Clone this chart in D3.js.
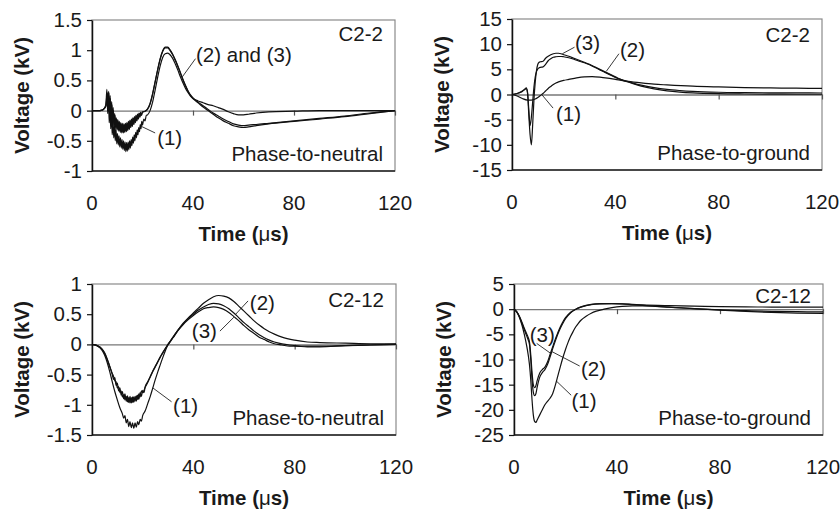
<!DOCTYPE html>
<html>
<head>
<meta charset="utf-8">
<script src="https://cdn.jsdelivr.net/npm/d3@7"></script>
<style>
  body { margin: 0; background: #fff; }
  svg text { font-family: 'Liberation Sans', Arial, Helvetica, sans-serif; fill: #1a1a1a; }
</style>
</head>
<body>
<svg id="chart" width="840" height="510"></svg>
<script>
// ---- data ----
const timeTicks = [0, 40, 80, 120]
const ticksPn22 = [-1, -0.5, 0, 0.5, 1, 1.5]
const ticksPg22 = [-15, -10, -5, 0, 5, 10, 15]
const ticksPn212 = [-1.5, -1, -0.5, 0, 0.5, 1]
const ticksPg212 = [-25, -20, -15, -10, -5, 0, 5]

// C2-2, phase-to-neutral
const pn22_1 = [[0,0],[3,0],[4.5,0.02],[5.5,0.1],[5.9,0.35],[6.2,-0.05],[6.5,0.3],[6.8,-0.2],[7.1,0.1],[7.4,-0.3],[7.7,-0.05],[8,-0.4],[8.3,-0.15],[8.6,-0.45],[8.9,-0.25],[9.2,-0.5],[9.5,-0.3],[9.8,-0.55],[10.1,-0.38],[10.4,-0.57],[10.7,-0.42],[11,-0.6],[11.3,-0.45],[11.6,-0.62],[11.9,-0.48],[12.2,-0.64],[12.5,-0.5],[12.8,-0.66],[13.1,-0.52],[13.4,-0.68],[13.7,-0.53],[14,-0.67],[14.3,-0.52],[14.6,-0.65],[14.9,-0.5],[15.2,-0.62],[15.5,-0.48],[15.8,-0.58],[16.1,-0.44],[16.4,-0.54],[16.7,-0.4],[17,-0.5],[17.3,-0.36],[17.6,-0.45],[17.9,-0.32],[18.2,-0.4],[18.5,-0.28],[18.8,-0.35],[19.1,-0.23],[19.4,-0.3],[19.7,-0.18],[20,-0.24],[20.5,-0.14],[21,-0.17],[21.5,-0.08],[22,-0.07],[23,0],[24,0.14],[25,0.34],[26,0.55],[27,0.74],[28,0.88],[29,0.94],[30,0.95],[31,0.92],[32,0.86],[33,0.77],[34,0.67],[35,0.56],[36,0.46],[37,0.37],[38,0.3],[39,0.24],[40,0.2],[42,0.16],[44,0.13],[46,0.1],[48,0.08],[50,0.05],[52,0.02],[54,-0.02],[56,-0.05],[58,-0.07],[60,-0.07],[62,-0.06],[65,-0.04],[70,-0.02],[80,-0.01],[90,0],[120,0]]
const pn22_2 = [[0,0],[3,0],[4.5,0.02],[5.5,0.08],[6,0.3],[6.3,0.05],[6.6,0.32],[6.9,-0.05],[7.2,0.25],[7.5,-0.12],[7.8,0.15],[8.1,-0.2],[8.4,0.05],[8.7,-0.25],[9,-0.05],[9.3,-0.28],[9.6,-0.12],[9.9,-0.3],[10.2,-0.15],[10.5,-0.32],[10.8,-0.18],[11.1,-0.34],[11.4,-0.2],[11.7,-0.35],[12,-0.21],[12.3,-0.36],[12.6,-0.22],[12.9,-0.35],[13.2,-0.21],[13.5,-0.34],[13.8,-0.2],[14.1,-0.32],[14.4,-0.18],[14.7,-0.3],[15,-0.16],[15.3,-0.27],[15.6,-0.14],[15.9,-0.25],[16.2,-0.12],[16.5,-0.22],[16.8,-0.1],[17.1,-0.19],[17.4,-0.08],[17.7,-0.16],[18,-0.06],[18.3,-0.13],[18.6,-0.04],[18.9,-0.1],[19.2,-0.03],[19.5,-0.07],[20,-0.02],[21,-0.01],[22,0.03],[23,0.12],[24,0.28],[25,0.48],[26,0.68],[27,0.86],[28,0.99],[29,1.05],[30,1.05],[31,1.0],[32,0.93],[33,0.84],[34,0.74],[35,0.63],[36,0.52],[37,0.42],[38,0.33],[39,0.26],[40,0.21],[42,0.14],[44,0.08],[46,0.02],[48,-0.04],[50,-0.09],[52,-0.14],[54,-0.18],[56,-0.22],[58,-0.24],[60,-0.25],[62,-0.24],[65,-0.23],[70,-0.21],[80,-0.17],[90,-0.13],[100,-0.09],[110,-0.04],[120,0]]
const pn22_3 = [[0,0],[3,0],[4.5,0.02],[5.5,0.07],[6.1,0.28],[6.4,0.02],[6.7,0.3],[7,-0.08],[7.3,0.2],[7.6,-0.15],[7.9,0.1],[8.2,-0.22],[8.5,0.0],[8.8,-0.27],[9.1,-0.08],[9.4,-0.3],[9.7,-0.14],[10,-0.32],[10.3,-0.17],[10.6,-0.34],[10.9,-0.2],[11.2,-0.36],[11.5,-0.22],[11.8,-0.37],[12.1,-0.23],[12.4,-0.37],[12.7,-0.23],[13,-0.36],[13.3,-0.22],[13.6,-0.35],[13.9,-0.21],[14.2,-0.33],[14.5,-0.19],[14.8,-0.31],[15.1,-0.17],[15.4,-0.28],[15.7,-0.15],[16,-0.26],[16.3,-0.13],[16.6,-0.23],[16.9,-0.11],[17.2,-0.2],[17.5,-0.09],[17.8,-0.17],[18.1,-0.07],[18.4,-0.14],[18.7,-0.05],[19,-0.11],[19.3,-0.04],[19.6,-0.08],[20,-0.03],[21,-0.01],[22,0.02],[23,0.11],[24,0.27],[25,0.47],[26,0.67],[27,0.85],[28,0.98],[29,1.04],[30,1.04],[31,0.99],[32,0.92],[33,0.83],[34,0.73],[35,0.62],[36,0.51],[37,0.41],[38,0.32],[39,0.25],[40,0.2],[42,0.13],[44,0.06],[46,0],[48,-0.06],[50,-0.12],[52,-0.17],[54,-0.21],[56,-0.25],[58,-0.27],[60,-0.28],[62,-0.27],[65,-0.25],[70,-0.22],[80,-0.18],[90,-0.14],[100,-0.1],[110,-0.05],[120,0]]

// C2-2, phase-to-ground
const pg22_1 = [[0,0],[2,-0.3],[4,-0.8],[6,-1.1],[7.5,-1.1],[9,-0.9],[10,-0.6],[11,-0.2],[12,0.2],[13,0.7],[14,1.2],[15,1.6],[16,2.0],[17,2.3],[18,2.5],[20,2.8],[22,3.0],[25,3.3],[28,3.5],[31,3.55],[34,3.45],[37,3.25],[40,3.0],[45,2.6],[50,2.3],[55,2.05],[60,1.9],[70,1.65],[80,1.5],[90,1.38],[100,1.3],[110,1.25],[120,1.2]]
const pg22_2 = [[0,0],[2,0.2],[4,0.6],[5,1.0],[5.5,1.2],[6,0.5],[6.5,-3],[7,-6.2],[7.5,-4.5],[8,-1.5],[8.5,1.5],[9,3.5],[9.5,4.6],[10,5.1],[10.5,5.3],[11,5.4],[12,5.5],[13,6.0],[14,6.7],[15,7.1],[16,7.4],[17,7.5],[18,7.55],[19,7.55],[20,7.5],[22,7.3],[24,7.0],[26,6.6],[28,6.3],[30,5.9],[32,5.4],[34,4.9],[36,4.4],[38,3.9],[40,3.4],[42,3.0],[46,2.4],[50,1.85],[55,1.35],[60,1.0],[65,0.78],[70,0.62],[80,0.45],[90,0.38],[100,0.34],[110,0.32],[120,0.3]]
const pg22_3 = [[0,0],[2,0.2],[4,0.7],[5,1.1],[5.5,1.3],[6,0.3],[6.5,-4],[7,-8],[7.5,-10],[8,-6],[8.5,-1],[9,2.5],[9.5,4.8],[10,6.0],[10.5,6.4],[11,6.5],[12,6.6],[13,7.2],[14,7.6],[15,7.9],[16,8.1],[17,8.2],[18,8.2],[19,8.1],[20,7.9],[22,7.6],[24,7.2],[26,6.8],[28,6.4],[30,6.0],[32,5.5],[34,5.0],[36,4.5],[38,4.0],[40,3.5],[42,3.0],[46,2.3],[50,1.65],[55,1.1],[60,0.72],[65,0.48],[70,0.32],[80,0.16],[90,0.1],[100,0.07],[110,0.05],[120,0.05]]

// C2-12, phase-to-neutral
const pn212_1 = [[0,0],[2,-0.02],[4,-0.1],[5,-0.18],[6,-0.3],[7,-0.45],[8,-0.62],[9,-0.78],[10,-0.92],[11,-1.05],[12,-1.15],[12.5,-1.22],[13,-1.18],[13.5,-1.3],[14,-1.24],[14.5,-1.36],[15,-1.28],[15.5,-1.38],[16,-1.3],[16.5,-1.39],[17,-1.3],[17.5,-1.37],[18,-1.28],[18.5,-1.33],[19,-1.24],[19.5,-1.27],[20,-1.18],[21,-1.1],[22,-0.98],[23,-0.86],[24,-0.72],[25,-0.58],[26,-0.45],[27,-0.33],[28,-0.21],[29,-0.1],[30,0],[31,0.06],[32,0.12],[34,0.24],[36,0.35],[38,0.44],[40,0.52],[42,0.6],[44,0.68],[46,0.74],[48,0.79],[50,0.81],[52,0.8],[54,0.77],[56,0.71],[58,0.63],[60,0.55],[62,0.47],[64,0.39],[66,0.32],[68,0.26],[70,0.21],[72,0.17],[75,0.12],[80,0.07],[85,0.04],[90,0.03],[100,0.02],[110,0.01],[120,0.01]]
const pn212_2 = [[0,0],[2,-0.02],[4,-0.08],[5,-0.15],[6,-0.25],[7,-0.37],[8,-0.5],[8.5,-0.58],[9,-0.55],[9.5,-0.68],[10,-0.64],[10.5,-0.77],[11,-0.72],[11.5,-0.84],[12,-0.78],[12.5,-0.9],[13,-0.82],[13.5,-0.94],[14,-0.85],[14.5,-0.96],[15,-0.86],[15.5,-0.97],[16,-0.87],[16.5,-0.96],[17,-0.86],[17.5,-0.94],[18,-0.84],[18.5,-0.91],[19,-0.8],[19.5,-0.86],[20,-0.76],[20.5,-0.8],[21,-0.7],[22,-0.62],[23,-0.53],[24,-0.44],[25,-0.36],[26,-0.28],[27,-0.2],[28,-0.13],[29,-0.06],[30,0],[31,0.06],[32,0.12],[34,0.24],[36,0.34],[38,0.43],[40,0.5],[42,0.57],[44,0.62],[46,0.66],[48,0.68],[50,0.67],[52,0.64],[54,0.59],[56,0.52],[58,0.44],[60,0.36],[62,0.29],[64,0.22],[66,0.16],[68,0.11],[70,0.07],[72,0.04],[75,0.01],[78,-0.01],[80,-0.02],[85,-0.03],[90,-0.03],[100,-0.02],[110,-0.01],[120,0]]
const pn212_3 = [[0,0],[2,-0.02],[4,-0.08],[5,-0.14],[6,-0.24],[7,-0.36],[8,-0.48],[8.5,-0.53],[9,-0.6],[9.5,-0.62],[10,-0.72],[10.5,-0.7],[11,-0.8],[11.5,-0.77],[12,-0.87],[12.5,-0.83],[13,-0.92],[13.5,-0.86],[14,-0.95],[14.5,-0.88],[15,-0.97],[15.5,-0.88],[16,-0.96],[16.5,-0.87],[17,-0.94],[17.5,-0.85],[18,-0.91],[18.5,-0.82],[19,-0.87],[19.5,-0.77],[20,-0.8],[21,-0.71],[22,-0.63],[23,-0.54],[24,-0.45],[25,-0.37],[26,-0.29],[27,-0.21],[28,-0.14],[29,-0.07],[30,-0.01],[31,0.05],[32,0.11],[34,0.23],[36,0.33],[38,0.41],[40,0.48],[42,0.54],[44,0.59],[46,0.61],[48,0.62],[50,0.61],[52,0.58],[54,0.53],[56,0.46],[58,0.39],[60,0.31],[62,0.24],[64,0.18],[66,0.12],[68,0.08],[70,0.04],[72,0.01],[75,-0.01],[78,-0.03],[80,-0.03],[85,-0.04],[90,-0.04],[100,-0.02],[110,-0.01],[120,0]]

// C2-12, phase-to-ground
const pg212_1 = [[0,0],[1,-0.5],[2,-1.5],[3,-3],[4,-5],[5,-7.5],[6,-11],[6.5,-14],[7,-18],[7.5,-21],[8,-22.3],[8.5,-22.5],[9,-22],[10,-21],[11,-20],[12,-19],[13,-18.3],[14,-17.7],[15,-16.8],[16,-15.2],[17,-13.3],[18,-11.4],[19,-9.6],[20,-8],[21,-6.6],[22,-5.4],[23,-4.4],[24,-3.5],[25,-2.8],[26,-2.2],[28,-1.4],[30,-0.8],[32,-0.4],[35,0],[38,0.3],[42,0.55],[46,0.65],[50,0.65],[55,0.55],[60,0.4],[65,0.25],[70,0.1],[80,-0.15],[90,-0.3],[100,-0.42],[110,-0.5],[120,-0.55]]
const pg212_2 = [[0,0],[1,-0.5],[2,-1.3],[3,-2.5],[4,-3.8],[5,-5],[5.5,-5.6],[6,-6.5],[6.5,-9],[7,-12.5],[7.5,-15],[8,-15.6],[8.5,-15.2],[9,-14.2],[10,-12.7],[11,-12],[12,-11.5],[13,-10.5],[14,-9],[15,-7.5],[16,-6],[17,-4.7],[18,-3.5],[19,-2.5],[20,-1.7],[22,-0.6],[24,0],[26,0.4],[28,0.7],[30,0.9],[34,1.05],[38,1.1],[42,1.05],[46,0.95],[50,0.85],[60,0.7],[70,0.6],[80,0.5],[90,0.45],[100,0.42],[120,0.4]]
const pg212_3 = [[0,0],[1,-0.5],[2,-1.4],[3,-2.7],[4,-4.1],[5,-5.4],[5.5,-6.1],[6,-7],[6.5,-10],[7,-14],[7.5,-16.5],[8,-17.2],[8.5,-16.8],[9,-15.5],[10,-13.5],[11,-12.6],[12,-12],[13,-11],[14,-9.5],[15,-7.9],[16,-6.4],[17,-5],[18,-3.8],[19,-2.8],[20,-1.9],[22,-0.7],[24,0],[26,0.45],[28,0.75],[30,0.95],[34,1.1],[38,1.12],[42,1.05],[46,0.9],[50,0.75],[60,0.4],[70,0.1],[80,-0.2],[90,-0.45],[100,-0.65],[110,-0.78],[120,-0.85]]

// ---- layout ----
const fs = 20.5
const panels = [
  { left: 92, right: 395, top: 20, bottom: 171, domain: [-1, 1.5], ticks: ticksPn22,
    curves: [pn22_1, pn22_2, pn22_3], tag: 'C2-2', kind: 'Phase-to-neutral', tagDy: 21,
    notes: [
      { text: '(2) and (3)', at: [41.2, 0.8], from: [41, 0.86], to: [35.8, 0.56] },
      { text: '(1)', at: [25.8, -0.57], from: [25, -0.37], to: [19.5, -0.26] }
    ] },
  { left: 512, right: 822, top: 19, bottom: 170, domain: [-15, 15], ticks: ticksPg22,
    curves: [pg22_1, pg22_2, pg22_3], tag: 'C2-2', kind: 'Phase-to-ground', tagDy: 23,
    notes: [
      { text: '(3)', at: [24.4, 8.9], from: [24.2, 9.4], to: [19.5, 8.1] },
      { text: '(2)', at: [41.8, 7.5], from: [41.4, 8.1], to: [36.5, 4.6] },
      { text: '(1)', at: [17, -5.3], from: [15.9, -2.7], to: [11.5, 0] }
    ] },
  { left: 92, right: 396, top: 284, bottom: 435, domain: [-1.5, 1], ticks: ticksPn212,
    curves: [pn212_1, pn212_2, pn212_3], tag: 'C2-12', kind: 'Phase-to-neutral', tagDy: 23,
    notes: [
      { text: '(2)', at: [62.3, 0.57], from: [61.6, 0.72], to: [56.5, 0.49] },
      { text: '(3)', at: [39.4, 0.1], from: [50.5, 0.22], to: [56, 0.45] },
      { text: '(1)', at: [32, -1.13], from: [31.4, -0.95], to: [24, -0.72] }
    ] },
  { left: 514, right: 823, top: 284, bottom: 435, domain: [-25, 5], ticks: ticksPg212,
    curves: [pg212_1, pg212_2, pg212_3], tag: 'C2-12', kind: 'Phase-to-ground', tagDy: 19,
    notes: [
      { text: '(3)', at: [6.1, -6.6], from: [8.8, -6.8], to: [14.3, -8.8] },
      { text: '(2)', at: [26, -13.3], from: [25.5, -11.3], to: [14.6, -8.4] },
      { text: '(1)', at: [22.3, -19.7], from: [22.2, -17.1], to: [16.5, -14.3] }
    ] }
]

const svg = d3.select('#chart')

panels.forEach(p => {
  const x = d3.scaleLinear().domain([0, 120]).range([p.left, p.right])
  const y = d3.scaleLinear().domain(p.domain).range([p.bottom, p.top])
  const g = svg.append('g')

  // plot frame
  g.append('rect')
    .attr('x', p.left).attr('y', p.top)
    .attr('width', p.right - p.left).attr('height', p.bottom - p.top)
    .attr('fill', 'none').attr('stroke', '#8a8a8a').attr('stroke-width', 1.2)
  g.append('line')
    .attr('x1', p.left).attr('x2', p.right)
    .attr('y1', p.bottom).attr('y2', p.bottom)
    .attr('stroke', '#222').attr('stroke-width', 1.3)

  // zero line with time ticks
  const xAxis = g.append('g')
    .attr('transform', `translate(0,${y(0)})`)
    .call(d3.axisBottom(x).tickValues(timeTicks.slice(1)).tickSize(5).tickSizeOuter(0).tickFormat(''))
  xAxis.select('.domain').attr('stroke', '#777').attr('stroke-width', 1.4)
  xAxis.selectAll('.tick line').attr('stroke', '#555').attr('stroke-width', 1.2)

  // time labels at the bottom
  g.selectAll('.tlab').data(timeTicks).enter().append('text')
    .attr('x', d => x(d)).attr('y', p.bottom + 39)
    .attr('text-anchor', 'middle').attr('font-size', fs)
    .text(d => d)

  // voltage axis
  const yAxis = g.append('g')
    .attr('transform', `translate(${p.left},0)`)
    .call(d3.axisLeft(y).tickValues(p.ticks).tickSize(5).tickSizeOuter(0).tickPadding(5).tickFormat(d => String(d)))
  yAxis.select('.domain').attr('stroke', '#111').attr('stroke-width', 1.5)
  yAxis.selectAll('.tick line').attr('stroke', '#111').attr('stroke-width', 1.2)
  yAxis.selectAll('.tick text')
    .attr('font-size', fs).attr('fill', '#1a1a1a')
    .style('font-family', "'Liberation Sans', Arial, sans-serif")

  // curves
  const line = d3.line().x(d => x(d[0])).y(d => y(d[1])).curve(d3.curveMonotoneX)
  g.selectAll('.curve').data(p.curves).enter().append('path')
    .attr('d', line)
    .attr('fill', 'none').attr('stroke', '#111').attr('stroke-width', 1.2)
    .attr('stroke-linejoin', 'round')

  // annotations
  p.notes.forEach(n => {
    g.append('line')
      .attr('x1', x(n.from[0])).attr('y1', y(n.from[1]))
      .attr('x2', x(n.to[0])).attr('y2', y(n.to[1]))
      .attr('stroke', '#222').attr('stroke-width', 0.9)
    g.append('text')
      .attr('x', x(n.at[0])).attr('y', y(n.at[1]))
      .attr('font-size', fs).text(n.text)
  })

  g.append('text')
    .attr('x', p.right - 12).attr('y', p.top + p.tagDy)
    .attr('text-anchor', 'end').attr('font-size', fs).text(p.tag)
  g.append('text')
    .attr('x', p.right - 12).attr('y', p.bottom - 10)
    .attr('text-anchor', 'end').attr('font-size', fs).text(p.kind)

  // axis titles
  const tt = g.append('text')
    .attr('x', (p.left + p.right) / 2).attr('y', p.bottom + 70)
    .attr('text-anchor', 'middle').attr('font-size', fs).attr('font-weight', 'bold')
  tt.append('tspan').text('Time (')
  tt.append('tspan').attr('font-weight', 'normal').text('μ')
  tt.append('tspan').text('s)')

  g.append('text')
    .attr('transform', `translate(${p.left - 63},${(p.top + p.bottom) / 2}) rotate(-90)`)
    .attr('text-anchor', 'middle').attr('font-size', fs).attr('font-weight', 'bold')
    .text('Voltage (kV)')
})
</script>
</body>
</html>
